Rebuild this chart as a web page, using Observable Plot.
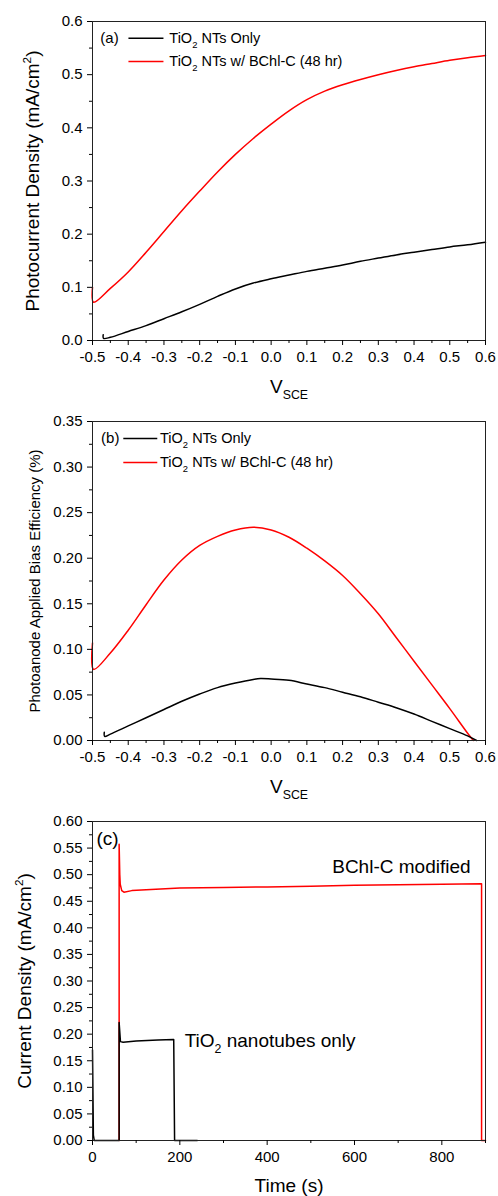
<!DOCTYPE html>
<html>
<head>
<meta charset="utf-8">
<script src="https://cdn.jsdelivr.net/npm/d3@7"></script>
<script src="https://cdn.jsdelivr.net/npm/@observablehq/plot@0.6"></script>
<style>
html, body { margin: 0; padding: 0; background: #fff; }
#chart svg { display: block; }
</style>
</head>
<body>
<div id="chart"></div>
<script>
// ---------- Panel (a): photocurrent density vs V_SCE ----------
const aRedV = [-0.5, -0.497, -0.45, -0.4, -0.35, -0.3, -0.25, -0.2, -0.15, -0.1, -0.05, 0, 0.05, 0.1, 0.15, 0.2, 0.25, 0.3, 0.35, 0.4, 0.45, 0.5, 0.55, 0.6];
const aRedJ = [0.100, 0.072, 0.098, 0.129, 0.166, 0.205, 0.244, 0.281, 0.317, 0.350, 0.380, 0.407, 0.432, 0.453, 0.469, 0.481, 0.491, 0.500, 0.508, 0.515, 0.521, 0.527, 0.532, 0.536];
const aBlackV = [-0.470, -0.469, -0.45, -0.4, -0.35, -0.3, -0.25, -0.2, -0.15, -0.1, -0.05, 0, 0.05, 0.1, 0.15, 0.2, 0.25, 0.3, 0.35, 0.4, 0.45, 0.5, 0.55, 0.6];
const aBlackJ = [0.011, 0.004, 0.006, 0.017, 0.028, 0.041, 0.054, 0.068, 0.083, 0.097, 0.108, 0.116, 0.123, 0.130, 0.136, 0.142, 0.149, 0.155, 0.161, 0.166, 0.171, 0.176, 0.180, 0.185];

// ---------- Panel (b): applied bias efficiency vs V_SCE ----------
const bRedV = [-0.5, -0.497, -0.45, -0.4, -0.35, -0.3, -0.25, -0.2, -0.15, -0.1, -0.05, 0, 0.05, 0.1, 0.15, 0.2, 0.25, 0.3, 0.35, 0.4, 0.45, 0.5, 0.55, 0.566];
const bRedE = [0.107, 0.078, 0.096, 0.121, 0.149, 0.176, 0.198, 0.214, 0.224, 0.231, 0.234, 0.231, 0.223, 0.211, 0.197, 0.181, 0.161, 0.139, 0.113, 0.087, 0.061, 0.035, 0.008, 0.0];
const bBlackV = [-0.467, -0.466, -0.45, -0.4, -0.35, -0.3, -0.25, -0.2, -0.15, -0.1, -0.05, -0.03, 0, 0.05, 0.1, 0.15, 0.2, 0.25, 0.3, 0.35, 0.4, 0.45, 0.5, 0.55, 0.575];
const bBlackE = [0.009, 0.0045, 0.007, 0.016, 0.025, 0.034, 0.043, 0.051, 0.058, 0.063, 0.067, 0.068, 0.0675, 0.066, 0.062, 0.058, 0.053, 0.048, 0.042, 0.036, 0.029, 0.021, 0.013, 0.005, 0.0];

// ---------- Panel (c): current density vs time ----------
const cRedT = [61, 61, 62.5, 63.5, 67, 72, 90, 200, 300, 400, 500, 600, 700, 800, 891, 891, 900];
const cRedI = [0, 0.557, 0.500, 0.482, 0.470, 0.467, 0.470, 0.475, 0.476, 0.477, 0.478, 0.480, 0.481, 0.482, 0.483, 0, 0];
const cBlackT = [0, 2, 4, 61, 61, 64, 70, 100, 150, 186, 188, 240];
const cBlackI = [0.17, 0.01, 0, 0, 0.222, 0.186, 0.185, 0.187, 0.189, 0.190, 0, 0];

// ---------- tick values ----------
const vMajor = [-0.5, -0.4, -0.3, -0.2, -0.1, 0, 0.1, 0.2, 0.3, 0.4, 0.5, 0.6];
const vMinor = [-0.45, -0.35, -0.25, -0.15, -0.05, 0.05, 0.15, 0.25, 0.35, 0.45, 0.55];
const aYMajor = [0, 0.1, 0.2, 0.3, 0.4, 0.5, 0.6];
const aYMinor = [0.05, 0.15, 0.25, 0.35, 0.45, 0.55];
const bYMajor = [0, 0.05, 0.1, 0.15, 0.2, 0.25, 0.3, 0.35];
const bYMinor = [0.025, 0.075, 0.125, 0.175, 0.225, 0.275, 0.325];
const cXMajor = [0, 200, 400, 600, 800];
const cXMinor = [100, 300, 500, 700, 900];
const cYMajor = [0, 0.05, 0.1, 0.15, 0.2, 0.25, 0.3, 0.35, 0.4, 0.45, 0.5, 0.55, 0.6];
const cYMinor = [0.025, 0.075, 0.125, 0.175, 0.225, 0.275, 0.325, 0.375, 0.425, 0.475, 0.525, 0.575];

// ---------- labels ----------
const legendBlack = "TiO_{2} NTs Only";
const legendRed = "TiO_{2} NTs w/ BChl-C (48 hr)";
const xTitleV = "V_{SCE}";
const yTitleA = "Photocurrent Density (mA/cm^{2})";
const yTitleB = "Photoanode Applied Bias Efficiency (%)";
const yTitleC = "Current Density (mA/cm^{2})";
const xTitleC = "Time (s)";
const labelRedC = "BChl-C modified";
const labelBlackC = "TiO_{2} nanotubes only";

const FONT = "Arial, 'Liberation Sans', Helvetica, sans-serif";
const RED = "#ff0000";
const BLACK = "#000000";

const zip = (xs, ys) => xs.map((x, i) => ({x, y: ys[i]}));

function axes(xMajor, xMinor, yMajor, yMinor, xFmt, yFmt) {
  return [
    Plot.frame({stroke: "#222", strokeWidth: 1}),
    Plot.axisX({ticks: xMinor, tickSize: 3, tickFormat: () => "", label: null}),
    Plot.axisX({ticks: xMajor, tickSize: 5, tickPadding: 6, tickFormat: xFmt, label: null, fontSize: 15}),
    Plot.axisY({ticks: yMinor, tickSize: 3, tickFormat: () => "", label: null}),
    Plot.axisY({ticks: yMajor, tickSize: 5, tickPadding: 5, tickFormat: yFmt, label: null, fontSize: 15})
  ];
}

const base = {
  width: 498, marginTop: 21, marginRight: 13, marginLeft: 92,
  style: {fontFamily: FONT, fontSize: "15px", color: "#000", background: "#fff", overflow: "visible"}
};

const yTitle = (txt, dx, fs) =>
  Plot.text([txt], {frameAnchor: "left", dx, rotate: -90, fontSize: fs, textAnchor: "middle", lineAnchor: "middle"});
const xTitle = (txt, dy, fs) =>
  Plot.text([txt], {frameAnchor: "bottom", dy, fontSize: fs, textAnchor: "middle", lineAnchor: "middle"});

// Panel (a)
const plotA = Plot.plot({
  ...base, height: 400, marginBottom: 60,
  x: {domain: [-0.5, 0.6]}, y: {domain: [0, 0.6]},
  marks: [
    Plot.line(zip(aRedV, aRedJ), {x: "x", y: "y", stroke: RED, strokeWidth: 1.5, curve: "catmull-rom"}),
    Plot.line(zip(aBlackV, aBlackJ), {x: "x", y: "y", stroke: BLACK, strokeWidth: 1.5, curve: "catmull-rom"}),
    Plot.ruleY([0.5686], {x1: -0.398, x2: -0.300, stroke: BLACK, strokeWidth: 1.5}),
    Plot.ruleY([0.5247], {x1: -0.398, x2: -0.300, stroke: RED, strokeWidth: 1.5}),
    Plot.text(["(a)"], {x: -0.478, y: 0.5686, textAnchor: "start", fontSize: 15}),
    Plot.text([legendBlack], {x: -0.285, y: 0.5686, textAnchor: "start", fontSize: 14.5}),
    Plot.text([legendRed], {x: -0.285, y: 0.5247, textAnchor: "start", fontSize: 14.5}),
    xTitle(xTitleV, 46, 19),
    yTitle(yTitleA, -60, 19),
    ...axes(vMajor, vMinor, aYMajor, aYMinor, d => d.toFixed(1), d => d.toFixed(1))
  ]
});

// Panel (b)
const plotB = Plot.plot({
  ...base, height: 400, marginBottom: 60,
  x: {domain: [-0.5, 0.6]}, y: {domain: [0, 0.35]},
  marks: [
    Plot.line(zip(bRedV, bRedE), {x: "x", y: "y", stroke: RED, strokeWidth: 1.5, curve: "catmull-rom"}),
    Plot.line(zip(bBlackV, bBlackE), {x: "x", y: "y", stroke: BLACK, strokeWidth: 1.5, curve: "catmull-rom"}),
    Plot.ruleY([0.3314], {x1: -0.4124, x2: -0.3173, stroke: BLACK, strokeWidth: 1.5}),
    Plot.ruleY([0.3050], {x1: -0.4124, x2: -0.3173, stroke: RED, strokeWidth: 1.5}),
    Plot.text(["(b)"], {x: -0.476, y: 0.3314, textAnchor: "start", fontSize: 15}),
    Plot.text([legendBlack], {x: -0.311, y: 0.3314, textAnchor: "start", fontSize: 14.5}),
    Plot.text([legendRed], {x: -0.311, y: 0.3050, textAnchor: "start", fontSize: 14.5}),
    xTitle(xTitleV, 46, 19),
    yTitle(yTitleB, -57, 15),
    ...axes(vMajor, vMinor, bYMajor, bYMinor, d => d.toFixed(1), d => d.toFixed(2))
  ]
});

// Panel (c)
const plotC = Plot.plot({
  ...base, height: 396, marginBottom: 56,
  x: {domain: [0, 900]}, y: {domain: [0, 0.6]},
  marks: [
    Plot.line(zip(cRedT, cRedI), {x: "x", y: "y", stroke: RED, strokeWidth: 1.5}),
    Plot.line(zip(cBlackT, cBlackI), {x: "x", y: "y", stroke: BLACK, strokeWidth: 1.5}),
    Plot.text(["(c)"], {x: 9, y: 0.568, textAnchor: "start", fontSize: 19}),
    Plot.text([labelRedC], {x: 549, y: 0.514, textAnchor: "start", fontSize: 19}),
    Plot.text([labelBlackC], {x: 211, y: 0.188, textAnchor: "start", fontSize: 19}),
    xTitle(xTitleC, 45, 19),
    yTitle(yTitleC, -68, 19),
    ...axes(cXMajor, cXMinor, cYMajor, cYMinor, d => String(d), d => d.toFixed(2))
  ]
});

const container = document.getElementById("chart");
[plotA, plotB, plotC].forEach(p => container.appendChild(p));

// Turn _{...} and ^{...} into real subscript / superscript tspans
function richText(svg) {
  const ns = "http://www.w3.org/2000/svg";
  svg.querySelectorAll("text").forEach(t => {
    const s = t.textContent;
    if (!/[_^]\{/.test(s)) return;
    const fs = parseFloat(getComputedStyle(t).fontSize) || 15;
    while (t.firstChild) t.removeChild(t.firstChild);
    const re = /([_^])\{([^}]*)\}/g;
    let last = 0, cur = 0, m;
    const add = (str, off, size) => {
      if (!str) return;
      const ts = document.createElementNS(ns, "tspan");
      ts.textContent = str;
      const d = off - cur;
      if (d !== 0) ts.setAttribute("dy", d.toFixed(2));
      if (size) ts.setAttribute("font-size", size.toFixed(2));
      cur = off;
      t.appendChild(ts);
    };
    while ((m = re.exec(s))) {
      add(s.slice(last, m.index), 0, null);
      if (m[1] === "_") add(m[2], fs * 0.33, fs * 0.65);
      else add(m[2], -fs * 0.42, fs * 0.62);
      last = re.lastIndex;
    }
    add(s.slice(last), 0, null);
  });
}
[plotA, plotB, plotC].forEach(richText);
</script>
</body>
</html>
